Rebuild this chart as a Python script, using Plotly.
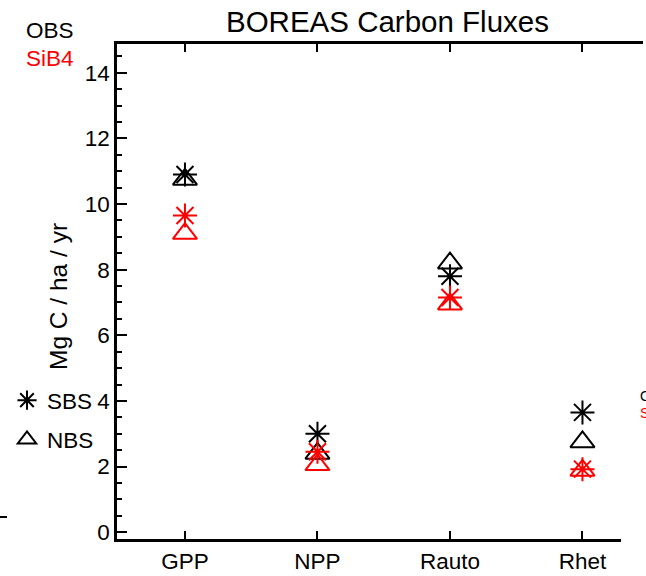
import plotly.graph_objects as go

# ---- data ----
categories = ["GPP", "NPP", "Rauto", "Rhet"]
obs_sbs = [10.9, 3.0, 7.8, 3.65]
obs_nbs = [10.75, 2.4, 8.2, 2.75]
sib4_sbs = [9.65, 2.45, 7.15, 1.92]
sib4_nbs = [9.1, 2.05, 6.95, 1.88]
y_ticks = [0, 2, 4, 6, 8, 10, 12, 14]

# ---- layout geometry ----
W, H = 646, 576
L, R, T, B = 117, 3, 44, 37
PW, PH = W - L - R, H - T - B


def px(x):
    return (x - L) / PW


def py(y):
    return (H - B - y) / PH


FONT = "Liberation Sans, Arial, Helvetica, sans-serif"
RED = "#ff0000"

fig = go.Figure()

series = [
    (obs_sbs, "asterisk-open", "black", 20),
    (obs_nbs, "triangle-up-open", "black", 21),
    (sib4_sbs, "asterisk-open", RED, 20),
    (sib4_nbs, "triangle-up-open", RED, 21),
]
for vals, sym, col, sz in series:
    fig.add_trace(go.Scatter(
        x=categories, y=vals, mode="markers", showlegend=False,
        cliponaxis=False,
        marker=dict(symbol=sym, size=sz, color=col,
                    line=dict(color=col, width=2)),
    ))

# legend entries (symbol keys)
fig.add_trace(go.Scatter(x=[None], y=[None], mode="markers", name="SBS",
                         legendgroup="a",
                         marker=dict(symbol="asterisk-open", size=16, color="black",
                                     line=dict(color="black", width=2))))
fig.add_trace(go.Scatter(x=[None], y=[None], mode="markers", name="NBS",
                         legendgroup="b",
                         marker=dict(symbol="triangle-up-open", size=16, color="black",
                                     line=dict(color="black", width=2))))

fig.update_layout(
    width=W, height=H,
    margin=dict(l=L, r=R, t=T, b=B, autoexpand=False),
    paper_bgcolor="white", plot_bgcolor="white",
    font=dict(family=FONT, size=22.5, color="black"),
    showlegend=True,
    legend=dict(x=px(7), y=py(379), xanchor="left", yanchor="top",
                bgcolor="rgba(0,0,0,0)", borderwidth=0,
                tracegroupgap=7, font=dict(size=22.5, family=FONT)),
    xaxis=dict(
        type="category", range=[-0.513, -0.513 + PW / 132.5],
        showline=True, linewidth=2.5, linecolor="black", mirror="ticks",
        ticks="inside", ticklen=8, tickwidth=2, tickcolor="black",
        showgrid=False, zeroline=False,
        tickfont=dict(size=22.5, family=FONT),
    ),
    yaxis=dict(
        range=[-0.21, 14.88], tickvals=y_ticks,
        showline=True, linewidth=2.5, linecolor="black",
        ticks="inside", ticklen=10, tickwidth=2, tickcolor="black",
        minor=dict(tickmode="linear", tick0=0, dtick=0.5, ticks="inside",
                   ticklen=5, tickwidth=2, tickcolor="black"),
        showgrid=False, zeroline=False,
        tickfont=dict(size=22.5, family=FONT),
    ),
)

ann = [
    dict(text="BOREAS Carbon Fluxes", x=px(387), y=py(22), xanchor="center",
         yanchor="middle", font=dict(size=29.5)),
    dict(text="OBS", x=px(24), y=py(30), xanchor="left", yanchor="middle",
         font=dict(size=22.5, color="black")),
    dict(text="SiB4", x=px(24), y=py(59), xanchor="left", yanchor="middle",
         font=dict(size=22.5, color=RED)),
    dict(text="Mg C / ha / yr", x=px(58), y=py(297), xanchor="center",
         yanchor="middle", textangle=-90, font=dict(size=24.5)),
    dict(text="OBS", x=px(638), y=py(396), xanchor="left", yanchor="middle",
         font=dict(size=14, color="black")),
    dict(text="SiB4", x=px(638), y=py(413), xanchor="left", yanchor="middle",
         font=dict(size=14, color=RED)),
]
for a in ann:
    a.update(xref="paper", yref="paper", showarrow=False)
fig.update_layout(annotations=ann)

fig.update_layout(shapes=[
    # bottom axis line ends short of the right edge in the original panel
    dict(type="rect", xref="paper", yref="paper", x0=px(621), x1=px(650),
         y0=py(543), y1=py(535), fillcolor="white", line=dict(width=0),
         layer="above"),
    # small stray dash at far left (edge of neighbouring panel)
    dict(type="line", xref="paper", yref="paper", x0=px(0), x1=px(7),
         y0=py(517), y1=py(517), line=dict(color="black", width=2)),
])

fig.write_html("out.html")
